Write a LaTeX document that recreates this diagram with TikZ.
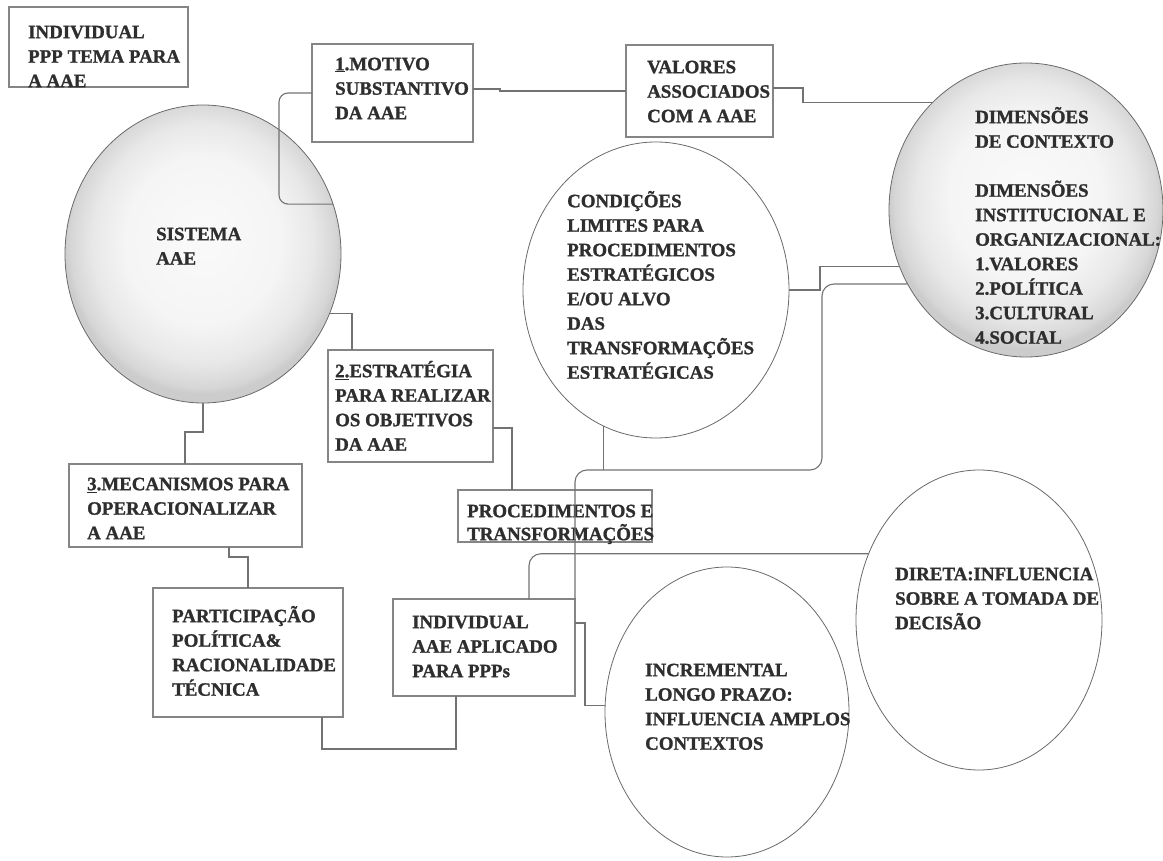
\documentclass[tikz,border=0pt]{standalone}
\usepackage{fontspec}
\setmainfont{Liberation Serif}[BoldFeatures={FakeBold=1.2}]
\usetikzlibrary{shapes.geometric}

\definecolor{inkc}{HTML}{2E2E2E}
\definecolor{linec}{HTML}{727272}
\definecolor{boxc}{HTML}{858585}
\definecolor{rimc}{HTML}{6A6A6A}

% soft grey disc, lighter towards the middle
\pgfdeclareradialshading{graydisc}{\pgfpoint{0bp}{3bp}}{%
  color(0bp)=(black!2); color(14bp)=(black!4); color(20bp)=(black!9);
  color(24bp)=(black!16); color(25bp)=(black!20); color(50bp)=(black!20)}

% fixed height for the first line of every label
\newcommand\firstln{\rule{0pt}{18pt}}

\begin{document}
\begin{tikzpicture}[x=1pt,y=-1pt,
  box/.style={draw=boxc, line width=1.1pt, fill=white, inner sep=0pt, outer sep=0pt},
  disc/.style={ellipse, draw=rimc, line width=0.8pt, fill=white, inner sep=0pt, outer sep=0pt},
  graydisc/.style={ellipse, draw=rimc, line width=0.8pt, shading=graydisc, shade, inner sep=0pt, outer sep=0pt},
  lbl/.style={anchor=north west, inner sep=0pt, align=left, text=inkc,
              font=\fontsize{18.9}{24.5}\selectfont\bfseries},
  conn/.style={draw=linec, line width=1.1pt}]

\useasboundingbox (0,0) rectangle (1163,861);

% ---------- shapes ----------
\node[box, minimum width=179, minimum height=80] (tema) at (98.5,47) {};
\node[box, minimum width=161, minimum height=98] (motivo) at (392.5,93) {};
\node[box, minimum width=147, minimum height=92] (valores) at (699.5,91) {};
\node[box, minimum width=165, minimum height=112] (estrategia) at (410.5,406) {};
\node[box, minimum width=194, minimum height=52] (proced) at (555,516) {};
\node[box, minimum width=233, minimum height=83] (mecan) at (185.5,505.5) {};
\node[box, minimum width=190, minimum height=129] (partic) at (248,652.5) {};
\node[box, minimum width=182, minimum height=97] (indiv) at (484,647.5) {};

\node[graydisc, minimum width=276, minimum height=298] (sistema) at (203,254) {};
\node[graydisc, minimum width=274, minimum height=294] (dimensoes) at (1026,210) {};
\node[disc, minimum width=266, minimum height=296] (condicoes) at (656,290) {};
\node[disc, minimum width=246, minimum height=300] (direta) at (979,620) {};
\node[disc, minimum width=244, minimum height=290] (increm) at (727,712) {};

% ---------- labels ----------
\node[lbl] (tema-t) at (28,20) {\firstln INDIVIDUAL\\PPP TEMA PARA\\A AAE};
\node[lbl] (motivo-t) at (335,52) {\firstln\underline{1}.MOTIVO\\SUBSTANTIVO\\DA AAE};
\node[lbl] (valores-t) at (647,55) {\firstln VALORES\\ASSOCIADOS\\COM A AAE};
\node[lbl] (dimensoes-t) at (975,105) {\firstln DIMENSÕES\\DE CONTEXTO\\[24.5pt]DIMENSÕES\\INSTITUCIONAL E\\ORGANIZACIONAL:\\1.VALORES\\2.POLÍTICA\\3.CULTURAL\\4.SOCIAL};
\node[lbl] (sistema-t) at (156,222) {\firstln SISTEMA\\AAE};
\node[lbl] (condicoes-t) at (567,189) {\firstln CONDIÇÕES\\LIMITES PARA\\PROCEDIMENTOS\\ESTRATÉGICOS\\E/OU ALVO\\DAS\\TRANSFORMAÇÕES\\ESTRATÉGICAS};
\node[lbl] (estrategia-t) at (335,359) {\firstln\underline{2.}ESTRATÉGIA\\PARA REALIZAR\\OS OBJETIVOS\\DA AAE};
\node[lbl, font=\fontsize{18.9}{23}\selectfont\bfseries] (proced-t) at (467,499) {\firstln PROCEDIMENTOS E\\TRANSFORMAÇÕES};
\node[lbl] (mecan-t) at (87,472) {\firstln\underline{3}.MECANISMOS PARA\\OPERACIONALIZAR\\A AAE};
\node[lbl] (partic-t) at (172,604) {\firstln PARTICIPAÇÃO\\POLÍTICA\&\\RACIONALIDADE\\TÉCNICA};
\node[lbl] (indiv-t) at (412,610) {\firstln INDIVIDUAL\\AAE APLICADO\\PARA PPPs};
\node[lbl] (increm-t) at (645,658) {\firstln INCREMENTAL\\LONGO PRAZO:\\INFLUENCIA AMPLOS\\CONTEXTOS};
\node[lbl] (direta-t) at (895,562) {\firstln DIRETA:INFLUENCIA\\SOBRE A TOMADA DE\\DECISÃO};

% ---------- connectors ----------
\coordinate (bus) at (822,470);

\draw[conn, rounded corners=9pt] (motivo.west) -- ++(-33,0) |- (sistema.21);
\draw[conn] ([yshift=4pt]motivo.east) -- ++(27,0) |- (valores.west);
\draw[conn] ([yshift=3pt]valores.east) -- ++(30,0) |- (dimensoes.131);
\draw[conn] (condicoes.east) -- ++(31,0) |- (dimensoes.204);
\draw[conn, rounded corners=12pt] (dimensoes.212) -| (bus) -| (indiv.north east);
\draw[conn] (condicoes.249) -- (condicoes.249 |- bus);
\draw[conn, rounded corners=12pt] (direta.149) -| ([xshift=136pt]indiv.north west);
\draw[conn] ([yshift=-24pt]indiv.north east) -- ++(10,0) |- (increm.177);
\draw[conn] (sistema.335) -| ([xshift=24pt]estrategia.north west);
\draw[conn] ([yshift=-22pt]estrategia.east) -| ([xshift=54pt]proced.north west);
\draw[conn] (sistema.south) -- ++(0,29) -| ([xshift=116pt]mecan.north west);
\draw[conn] ([xshift=160pt]mecan.south west) -- ++(0,10) -| ([xshift=95pt]partic.north west);
\draw[conn] ([xshift=169pt]partic.south west) -- ++(0,32) -| ([xshift=63pt]indiv.south west);

\end{tikzpicture}
\end{document}
